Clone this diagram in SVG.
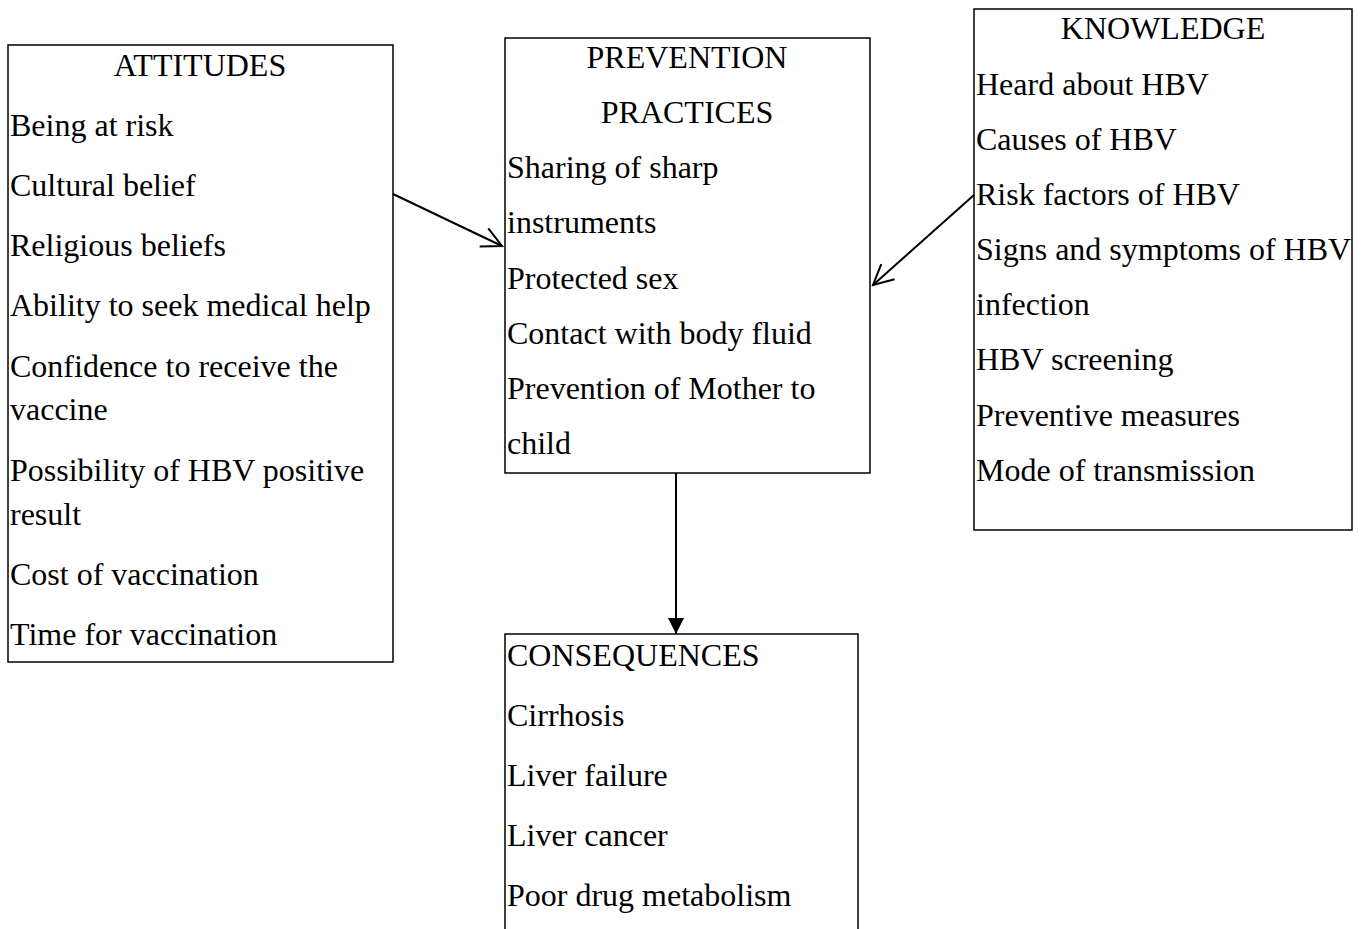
<svg xmlns="http://www.w3.org/2000/svg" width="1366" height="929" viewBox="0 0 1366 929">
<defs>
<style>
.box{fill:#fff;stroke:#000;stroke-width:1.5}
text{font-family:"Liberation Serif","Times New Roman",serif;font-size:32px;fill:#000}
.c{text-anchor:middle}
.ln{stroke:#000;stroke-width:2;fill:none}
</style>
<marker id="open2" viewBox="0 0 24 24" refX="22" refY="12" markerWidth="24" markerHeight="24" markerUnits="userSpaceOnUse" orient="auto"><path d="M2,2 L22,12 L2,22" fill="none" stroke="#000" stroke-width="2"/></marker>
<marker id="fill" viewBox="0 0 16 16" refX="16" refY="8" markerWidth="16" markerHeight="16" markerUnits="userSpaceOnUse" orient="auto"><path d="M0,0 L16,8 L0,16 Z" fill="#000"/></marker>
</defs>
<rect width="1366" height="929" fill="#fff"/>
<g id="attitudes">
<rect class="box" x="8" y="45" width="385" height="617"/>
<text class="c" x="200" y="76">ATTITUDES</text>
<text x="10" y="136">Being at risk</text>
<text x="10" y="196">Cultural belief</text>
<text x="10" y="256">Religious beliefs</text>
<text x="10" y="316">Ability to seek medical help</text>
<text x="10" y="377">Confidence to receive the</text>
<text x="10" y="420">vaccine</text>
<text x="10" y="481">Possibility of HBV positive</text>
<text x="10" y="525">result</text>
<text x="10" y="585">Cost of vaccination</text>
<text x="10" y="645">Time for vaccination</text>
</g>
<g id="prevention">
<rect class="box" x="505" y="38" width="365" height="435"/>
<text class="c" x="687" y="68">PREVENTION</text>
<text class="c" x="687" y="123">PRACTICES</text>
<text x="507" y="178">Sharing of sharp</text>
<text x="507" y="233">instruments</text>
<text x="507" y="289">Protected sex</text>
<text x="507" y="344">Contact with body fluid</text>
<text x="507" y="399">Prevention of Mother to</text>
<text x="507" y="454">child</text>
</g>
<g id="knowledge">
<rect class="box" x="974" y="9" width="378" height="521"/>
<text class="c" x="1163" y="39">KNOWLEDGE</text>
<text x="976" y="95">Heard about HBV</text>
<text x="976" y="150">Causes of HBV</text>
<text x="976" y="205">Risk factors of HBV</text>
<text x="976" y="260">Signs and symptoms of HBV</text>
<text x="976" y="315">infection</text>
<text x="976" y="370">HBV screening</text>
<text x="976" y="426">Preventive measures</text>
<text x="976" y="481">Mode of transmission</text>
</g>
<g id="consequences">
<rect class="box" x="505" y="634" width="353" height="320"/>
<text x="507" y="666">CONSEQUENCES</text>
<text x="507" y="726">Cirrhosis</text>
<text x="507" y="786">Liver failure</text>
<text x="507" y="846">Liver cancer</text>
<text x="507" y="906">Poor drug metabolism</text>
</g>
<g id="connectors">
<line class="ln" x1="393" y1="194" x2="502" y2="246" marker-end="url(#open2)"/>
<line class="ln" x1="974" y1="195" x2="873" y2="285" marker-end="url(#open2)"/>
<line class="ln" x1="676" y1="473" x2="676" y2="634" marker-end="url(#fill)"/>
</g>
</svg>
